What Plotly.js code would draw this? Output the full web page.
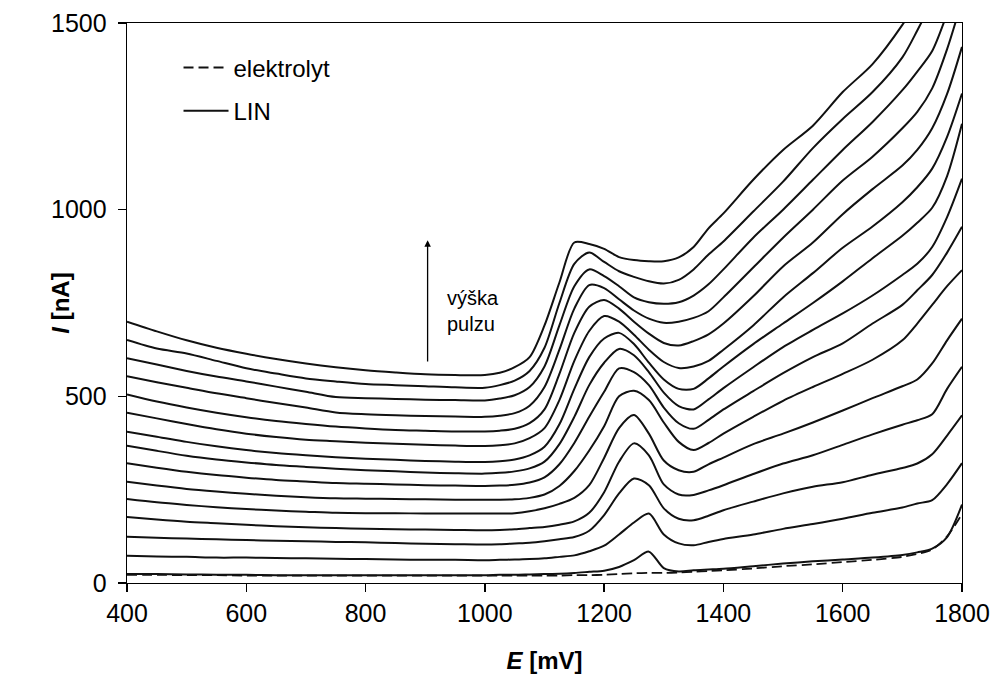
<!DOCTYPE html>
<html>
<head>
<meta charset="utf-8">
<script src="https://cdn.plot.ly/plotly-3.0.1.min.js"></script>
<style>html,body{margin:0;padding:0;background:#fff;}#chart{width:993px;height:676px;}</style>
</head>
<body>
<div id="chart"></div>
<script>
// Potential E [mV]
const E = [400,450,500,550,600,650,700,750,800,850,900,950,1000,
  1025,1050,1075,1100,1125,1150,1175,1200,1225,1250,1275,1300,1325,1350,1375,1400,
  1450,1500,1550,1600,1650,1700,1725,1750,1775,1800];

// Current I [nA] – electrolyte blank
const elektrolyt = [22,22,21,21,20,20,20,20,20,20,20,20,20,
  20,20,20,20,20,21,21,22,24,26,27,27,28,30,32,34,
  39,45,50,56,62,70,78,90,125,185];

// Current I [nA] – LIN, increasing pulse height (bottom to top)
const lin01 = [24,24,23,22,22,21,21,21,21,21,21,21,21,
  22,22,23,24,25,27,30,33,43,61,84,40,31,34,36,38,
  45,52,58,63,68,75,82,92,123,210];
const lin02 = [73,71,70,68,68,67,66,65,64,63,62,62,61,
  62,63,64,66,70,74,85,100,130,162,186,130,106,101,110,118,
  130,145,158,172,188,202,213,222,265,321];
const lin03 = [124,121,119,117,115,113,112,110,109,107,105,104,103,
  104,106,108,112,117,123,140,182,240,280,262,200,172,168,180,195,
  218,240,258,270,290,308,320,345,395,449];
const lin04 = [177,170,164,160,156,152,149,147,145,144,143,142,141,
  142,144,147,150,156,165,188,243,325,374,342,264,237,236,248,262,
  292,320,342,370,398,424,436,452,520,579];
const lin05 = [225,216,209,203,198,194,191,188,187,187,186,186,186,
  186,187,192,200,212,228,262,335,415,450,400,328,302,298,318,336,
  372,400,430,462,495,527,545,588,650,708];
const lin06 = [271,261,252,245,239,234,230,227,226,225,224,223,223,
  223,224,228,237,260,300,355,420,500,515,490,430,378,356,375,400,
  445,488,525,560,598,650,695,745,795,838];
const lin07 = [321,309,298,289,282,276,272,268,266,264,262,261,260,
  261,263,269,283,318,375,445,512,575,565,530,470,428,413,437,465,
  514,562,605,642,695,745,784,825,885,954];
const lin08 = [368,354,341,331,323,316,311,306,302,299,296,294,293,
  295,299,307,325,372,445,530,590,627,610,565,510,474,465,492,522,
  578,632,678,722,770,825,855,900,980,1083];
const lin09 = [405,392,378,366,356,348,342,337,333,330,327,325,324,
  326,331,342,365,425,520,605,655,670,640,590,545,520,520,548,580,
  640,695,750,808,870,930,965,1005,1090,1230];
const lin10 = [456,441,426,412,400,391,384,380,376,373,370,368,367,
  369,374,388,415,490,595,675,715,700,665,625,592,576,580,595,625,
  690,765,830,898,955,1020,1060,1110,1195,1311];
const lin11 = [505,486,470,456,444,434,426,419,414,410,408,406,406,
  408,413,428,465,560,670,740,758,735,700,668,643,636,648,666,695,
  768,848,912,988,1055,1118,1160,1218,1310,1436];
const lin12 = [554,538,523,508,495,482,470,457,452,449,447,446,445,
  448,455,475,525,625,735,798,790,760,730,708,697,700,710,728,765,
  845,925,1000,1078,1142,1218,1262,1325,1430,1560];
const lin13 = [602,585,568,553,540,526,512,498,495,493,491,490,489,
  494,503,525,580,690,795,840,822,795,765,752,748,752,770,800,840,
  925,1000,1080,1160,1235,1320,1370,1425,1525,1640];
const lin14 = [651,628,615,595,575,561,548,540,533,530,527,524,523,
  530,542,568,630,750,855,885,860,835,820,808,802,812,840,880,915,
  995,1075,1165,1243,1315,1408,1480,1560,1650,1750];
const lin15 = [700,674,650,630,614,600,588,578,570,564,559,557,557,
  563,578,605,690,805,912,908,895,873,865,862,862,872,900,950,990,
  1080,1160,1225,1315,1390,1495,1560,1640,1720,1800];

const linSeries = [lin01,lin02,lin03,lin04,lin05,lin06,lin07,lin08,lin09,lin10,lin11,lin12,lin13,lin14,lin15];

const xTicks = [400,600,800,1000,1200,1400,1600,1800];
const yTicks = [0,500,1000,1500];

const lineColor = '#111';
const traces = [];
traces.push({
  x: E, y: elektrolyt, type: 'scatter', mode: 'lines',
  name: 'elektrolyt', legendgroup: 'e',
  line: {color: lineColor, width: 1.8, dash: '10px,5px', shape: 'spline', smoothing: 0.8},
  hoverinfo: 'skip'
});
linSeries.forEach(function(s, i){
  traces.push({
    x: E, y: s, type: 'scatter', mode: 'lines',
    name: 'LIN', legendgroup: 'l', showlegend: i === 0,
    line: {color: lineColor, width: 2, shape: 'spline', smoothing: 0.8},
    hoverinfo: 'skip'
  });
});

const fontFam = 'Liberation Sans, Arial, Helvetica, sans-serif';
const layout = {
  width: 993, height: 676,
  margin: {l: 127, r: 31, t: 23, b: 93, pad: 0},
  paper_bgcolor: '#ffffff', plot_bgcolor: '#ffffff',
  font: {family: fontFam, color: '#000', size: 24},
  showlegend: true,
  legend: {x: 0.0617, y: 0.96, xanchor: 'left', yanchor: 'top',
    bgcolor: 'rgba(0,0,0,0)', borderwidth: 0, itemwidth: 45,
    font: {family: fontFam, size: 24, color: '#000'},
    traceorder: 'grouped', tracegroupgap: 9},
  xaxis: {
    range: [400, 1800], tickvals: xTicks, ticktext: xTicks.map(String),
    showgrid: false, zeroline: false, showline: true, mirror: true,
    linecolor: '#000', linewidth: 1.3,
    ticks: 'outside', ticklen: 8, tickwidth: 1.3, tickcolor: '#000',
    tickfont: {family: fontFam, size: 25, color: '#000'},
    title: {text: '<b><i>E</i> [mV]</b>', font: {family: fontFam, size: 24, color: '#000'}, standoff: 26}
  },
  yaxis: {
    range: [0, 1500], tickvals: yTicks, ticktext: yTicks.map(String),
    showgrid: false, zeroline: false, showline: true, mirror: true,
    linecolor: '#000', linewidth: 1.3,
    ticks: 'outside', ticklen: 8, tickwidth: 1.3, tickcolor: '#000',
    ticklabelstandoff: 6,
    tickfont: {family: fontFam, size: 25, color: '#000'},
    title: {text: '<b><i>I</i> [nA]</b>', font: {family: fontFam, size: 24, color: '#000'}}
  },
  annotations: [
    {x: 904, y: 918, ax: 904, ay: 589, xref: 'x', yref: 'y', axref: 'x', ayref: 'y',
     text: '', showarrow: true, arrowhead: 2, arrowsize: 1, arrowwidth: 1.3, arrowcolor: '#000'},
    {x: 933, y: 728, xref: 'x', yref: 'y', text: 'výška<br>pulzu', showarrow: false,
     xanchor: 'left', yanchor: 'middle', align: 'left',
     font: {family: fontFam, size: 20, color: '#000'}}
  ]
};

Plotly.newPlot('chart', traces, layout, {displayModeBar: false, staticPlot: true});
</script>
</body>
</html>
